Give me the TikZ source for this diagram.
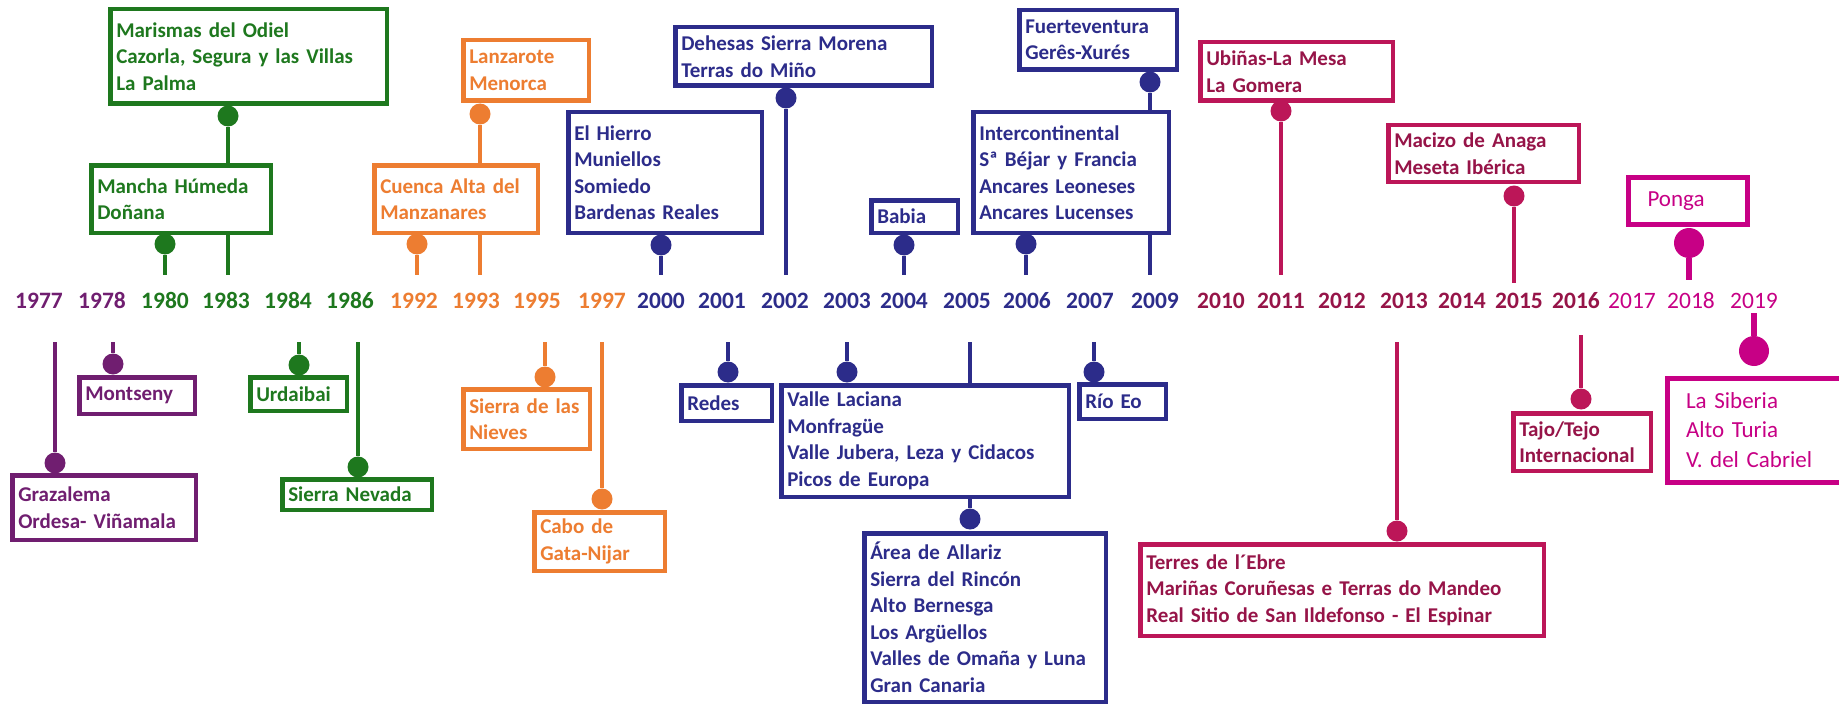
\documentclass[tikz,border=0pt]{standalone}
\usepackage{fontspec}
\setmainfont{Carlito}
\definecolor{purp}{RGB}{112,30,112}
\definecolor{grn}{RGB}{30,120,30}
\definecolor{org}{RGB}{237,125,49}
\definecolor{navy}{RGB}{44,44,138}
\definecolor{crim}{RGB}{188,22,88}
\definecolor{crimtxt}{RGB}{150,20,72}
\definecolor{mag}{RGB}{199,0,133}
\newcommand\boxfont{\bfseries\fontsize{21}{26.5}\selectfont\hyphenpenalty10000 \exhyphenpenalty10000 }
\newcommand\magfont{\fontsize{23}{29.5}\selectfont\hyphenpenalty10000 \exhyphenpenalty10000 }
\newcommand\yrfontb{\bfseries\fontsize{23.5}{23.5}\selectfont}
\newcommand\yrfontr{\fontsize{23.5}{23.5}\selectfont}
\tikzset{
  evbox/.style={rectangle, draw=#1, text=#1, line width=4.5pt, fill=white,
    inner xsep=6pt, inner ysep=0pt, align=left, font=\boxfont},
  magbox/.style={rectangle, draw=mag, text=mag, line width=5pt, fill=white,
    inner xsep=19pt, inner ysep=0pt, align=left, font=\magfont},
  dot/.style={circle, fill=#1, minimum size=21pt, inner sep=0pt},
  bigdot/.style={circle, fill=#1, minimum size=30pt, inner sep=0pt},
  stem/.style={draw=#1, line width=4.5pt},
  magstem/.style={draw=mag, line width=5.5pt},
  yrb/.style={text=#1, font=\yrfontb, inner sep=0pt},
  yrr/.style={text=#1, font=\yrfontr, inner sep=0pt},
}
% #1 style, #2 name, #3 x1, #4 y1, #5 x2, #6 y2, #7 text
\newcommand\evnode[7]{%
  \pgfmathsetmacro\bw{#5-#3-4.5}%
  \pgfmathsetmacro\bh{#6-#4-4.5}%
  \pgfmathsetmacro\tw{\bw-12}%
  \node[#1, minimum width=\bw pt, minimum height=\bh pt, text width=\tw pt] (#2) at ({(#3+#5)/2},{(#4+#6)/2}) {#7};}
\begin{document}
\begin{tikzpicture}[x=1pt,y=-1pt]
\path[use as bounding box] (0,0) rectangle (1839,706);
\fill[white] (0,0) rectangle (1839,706);
\clip (0,0) rectangle (1839,706);

% ---------- year labels ----------
\node[yrb=purp] (y1977) at (39,300.5) {1977};
\node[yrb=purp] (y1978) at (102,300.5) {1978};
\node[yrb=grn] (y1980) at (165,300.5) {1980};
\node[yrb=grn] (y1983) at (226,300.5) {1983};
\node[yrb=grn] (y1984) at (288,300.5) {1984};
\node[yrb=grn] (y1986) at (350,300.5) {1986};
\node[yrb=org] (y1992) at (414,300.5) {1992};
\node[yrb=org] (y1993) at (476,300.5) {1993};
\node[yrb=org] (y1995) at (537,300.5) {1995};
\node[yrb=org] (y1997) at (602,300.5) {1997};
\node[yrb=navy] (y2000) at (661,300.5) {2000};
\node[yrb=navy] (y2001) at (722,300.5) {2001};
\node[yrb=navy] (y2002) at (785,300.5) {2002};
\node[yrb=navy] (y2003) at (847,300.5) {2003};
\node[yrb=navy] (y2004) at (904,300.5) {2004};
\node[yrb=navy] (y2005) at (967,300.5) {2005};
\node[yrb=navy] (y2006) at (1027,300.5) {2006};
\node[yrb=navy] (y2007) at (1090,300.5) {2007};
\node[yrb=navy] (y2009) at (1155,300.5) {2009};
\node[yrb=crimtxt] (y2010) at (1221,300.5) {2010};
\node[yrb=crimtxt] (y2011) at (1281,300.5) {2011};
\node[yrb=crimtxt] (y2012) at (1342,300.5) {2012};
\node[yrb=crimtxt] (y2013) at (1404,300.5) {2013};
\node[yrb=crimtxt] (y2014) at (1462,300.5) {2014};
\node[yrb=crimtxt] (y2015) at (1519,300.5) {2015};
\node[yrb=crimtxt] (y2016) at (1576,300.5) {2016};
\node[yrr=mag] (y2017) at (1632,300.5) {2017};
\node[yrr=mag] (y2018) at (1691,300.5) {2018};
\node[yrr=mag] (y2019) at (1754,300.5) {2019};

% ---------- boxes above the line ----------
\evnode{evbox=grn}{marismas}{108}{7}{389}{106}{Marismas del Odiel\\Cazorla, Segura y las Villas\\La Palma}
\evnode{evbox=grn}{mancha}{89}{163}{273}{235}{Mancha Húmeda\\Doñana}
\evnode{evbox=org}{lanzarote}{461}{38}{591}{103}{Lanzarote\\Menorca}
\evnode{evbox=org}{cuenca}{372}{163}{540}{235}{Cuenca Alta del\\Manzanares}
\evnode{evbox=navy}{hierro}{566}{110}{764}{235}{El Hierro\\Muniellos\\Somiedo\\Bardenas Reales}
\evnode{evbox=navy}{dehesas}{673}{25}{934}{88}{Dehesas Sierra Morena\\Terras do Miño}
\evnode{evbox=navy}{babia}{869}{198}{960}{235}{Babia}
\evnode{evbox=navy}{inter}{971}{110}{1171}{235}{Intercontinental\\Sª Béjar y Francia\\Ancares Leoneses\\Ancares Lucenses}
\evnode{evbox=navy}{fuerte}{1017}{8}{1179}{72}{Fuerteventura\\Gerês-Xurés}
\evnode{evbox=crim, text=crimtxt}{ubinas}{1198}{40}{1395}{103}{Ubiñas-La Mesa\\La Gomera}
\evnode{evbox=crim, text=crimtxt}{macizo}{1386}{123}{1581}{184}{Macizo de Anaga\\Meseta Ibérica}
\node[magbox, minimum width=119pt, minimum height=47pt, text width=81pt] (ponga) at (1688,201) {Ponga};

% ---------- boxes below the line ----------
\evnode{evbox=purp}{grazalema}{10}{473}{198}{542}{Grazalema\\Ordesa- Viñamala}
\evnode{evbox=purp}{montseny}{77}{375}{197}{416}{Montseny}
\evnode{evbox=grn}{urdaibai}{248}{375}{349}{413}{Urdaibai}
\evnode{evbox=grn}{nevada}{280}{477}{434}{512}{Sierra Nevada}
\evnode{evbox=org}{nieves}{461}{387}{592}{451}{Sierra de las\\Nieves}
\evnode{evbox=org}{cabo}{532}{510}{667}{573}{Cabo de\\Gata-Nijar}
\evnode{evbox=navy}{redes}{679}{383}{774}{423}{Redes}
\evnode{evbox=navy}{valle}{779}{383}{1071}{499}{Valle Laciana\\Monfragüe\\Valle Jubera, Leza y Cidacos\\Picos de Europa}
\evnode{evbox=navy}{area}{862}{531}{1108}{704}{Área de Allariz\\Sierra del Rincón\\Alto Bernesga\\Los Argüellos\\Valles de Omaña y Luna\\Gran Canaria}
\evnode{evbox=navy}{rioeo}{1077}{382}{1168}{421}{Río Eo}
\evnode{evbox=crim, text=crimtxt}{terres}{1138}{542}{1546}{638}{Terres de l´Ebre\\Mariñas Coruñesas e Terras do Mandeo\\Real Sitio de San Ildefonso - El Espinar}
\evnode{evbox=crim, text=crimtxt}{tajo}{1511}{411}{1653}{473}{Tajo/Tejo\\Internacional}
\node[magbox, minimum width=193pt, minimum height=104pt, text width=155pt, anchor=north west] (siberia) at (1664.5,375.5) {La Siberia\\Alto Turia\\V. del Cabriel};

% ---------- dots ----------
\node[dot=grn] (d1980) at (165,244) {};
\node[dot=grn] (d1983) at (228,116) {};
\node[dot=org] (d1992) at (417,244) {};
\node[dot=org] (d1993) at (480,114) {};
\node[dot=navy] (d2000) at (661,245) {};
\node[dot=navy] (d2002) at (786,98) {};
\node[dot=navy] (d2004) at (904,245) {};
\node[dot=navy] (d2006) at (1026,244) {};
\node[dot=navy] (d2009) at (1150,82) {};
\node[dot=crim] (d2011) at (1281,111) {};
\node[dot=crim] (d2015) at (1514,196) {};
\node[bigdot=mag] (d2018) at (1689,243) {};

\node[dot=purp] (d1977) at (55,463) {};
\node[dot=purp] (d1978) at (113,364) {};
\node[dot=grn] (d1984) at (299,365) {};
\node[dot=grn] (d1986) at (358,467) {};
\node[dot=org] (d1995) at (545,377) {};
\node[dot=org] (d1997) at (602,499) {};
\node[dot=navy] (d2001) at (728,372) {};
\node[dot=navy] (d2003) at (847,372) {};
\node[dot=navy] (d2005) at (970,519) {};
\node[dot=navy] (d2007) at (1094,372) {};
\node[dot=crim] (d2013) at (1397,531) {};
\node[dot=crim] (d2016) at (1581,399) {};
\node[bigdot=mag] (d2019) at (1754,351) {};

% ---------- stem ends near the year row ----------
\foreach \n/\x in {1980/165,1983/228,1992/417,1993/480,2000/661,2002/786,2004/904,2006/1026,2009/1150,2011/1281}
  \coordinate (e\n) at (\x,275);
\coordinate (e2015) at (1514,283);
\coordinate (e2018) at (1689,280);
\foreach \n/\x in {1977/55,1978/113,1984/299,1986/358,1995/545,1997/602,2001/728,2003/847,2005/970,2007/1094,2013/1397}
  \coordinate (s\n) at (\x,342);
\coordinate (s2016) at (1581,335);
\coordinate (s2019) at (1754,313);

% ---------- stems above ----------
\draw[stem=grn] (d1980) -- (e1980);
\draw[stem=grn] (d1983) -- (mancha.north -| d1983);
\draw[stem=grn] (mancha.south -| d1983) -- (e1983);
\draw[stem=org] (d1992) -- (e1992);
\draw[stem=org] (d1993) -- (cuenca.north -| d1993);
\draw[stem=org] (cuenca.south -| d1993) -- (e1993);
\draw[stem=navy] (d2000) -- (e2000);
\draw[stem=navy] (d2002) -- (e2002);
\draw[stem=navy] (d2004) -- (e2004);
\draw[stem=navy] (d2006) -- (e2006);
\draw[stem=navy] (d2009) -- (inter.north -| d2009);
\draw[stem=navy] (inter.south -| d2009) -- (e2009);
\draw[stem=crim] (d2011) -- (e2011);
\draw[stem=crim] (d2015) -- (e2015);
\draw[magstem] (d2018) -- (e2018);

% ---------- stems below ----------
\draw[stem=purp] (s1977) -- (d1977);
\draw[stem=purp] (s1978) -- (d1978);
\draw[stem=grn] (s1984) -- (d1984);
\draw[stem=grn] (s1986) -- (d1986);
\draw[stem=org] (s1995) -- (d1995);
\draw[stem=org] (s1997) -- (d1997);
\draw[stem=navy] (s2001) -- (d2001);
\draw[stem=navy] (s2003) -- (d2003);
\draw[stem=navy] (s2005) -- (valle.north -| s2005);
\draw[stem=navy] (valle.south -| d2005) -- (d2005);
\draw[stem=navy] (s2007) -- (d2007);
\draw[stem=crim] (s2013) -- (d2013);
\draw[stem=crim] (s2016) -- (d2016);
\draw[magstem] (s2019) -- (d2019);
\end{tikzpicture}
\end{document}
